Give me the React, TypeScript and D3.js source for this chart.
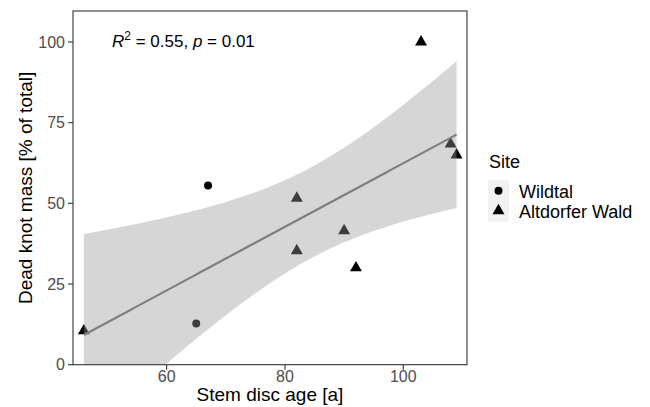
import React from "react";
import * as d3 from "d3";

const ages = [46, 65, 67, 82, 82, 90, 92, 103, 108, 109];
const deadKnot = [10.5, 12.8, 55.5, 51.6, 35.3, 41.5, 30, 100, 68.4, 65];
const sites = ["Altdorfer Wald", "Wildtal", "Wildtal", "Altdorfer Wald", "Altdorfer Wald", "Altdorfer Wald", "Altdorfer Wald", "Altdorfer Wald", "Altdorfer Wald", "Altdorfer Wald"];
const siteLevels = ["Wildtal", "Altdorfer Wald"];
const xTicks = [60, 80, 100];
const yTicks = [0, 25, 50, 75, 100];

const W = 650, H = 407;
const m = { left: 73, right: 467, top: 11, bottom: 364.7 };

export default function App() {
  const x = d3.scaleLinear().domain([44.17, 110.77]).range([m.left, m.right]);
  const y = d3.scaleLinear().domain([0, 109.6]).range([m.bottom, m.top]);

  const n = ages.length;
  const mx = d3.mean(ages)!;
  const my = d3.mean(deadKnot)!;
  let sxx = 0, sxy = 0, syy = 0;
  for (let i = 0; i < n; i++) {
    sxx += (ages[i] - mx) ** 2;
    sxy += (ages[i] - mx) * (deadKnot[i] - my);
    syy += (deadKnot[i] - my) ** 2;
  }
  const b = sxy / sxx;
  const a = my - b * mx;
  const s = Math.sqrt((syy - (sxy * sxy) / sxx) / (n - 2));
  const t = 2.306;
  const x0 = d3.min(ages)!, x1 = d3.max(ages)!;
  const grid = d3.range(0, 81).map((i) => x0 + ((x1 - x0) * i) / 80);
  const band = grid.map((xv) => {
    const fit = a + b * xv;
    const se = s * Math.sqrt(1 / n + (xv - mx) ** 2 / sxx);
    return { xv, fit, lo: fit - t * se, hi: fit + t * se };
  });
  const area = d3.area<any>().x((d) => x(d.xv)).y0((d) => y(d.lo)).y1((d) => y(d.hi));
  const line = d3.line<any>().x((d) => x(d.xv)).y((d) => y(d.fit));

  const tri = d3.symbol().type(d3.symbolTriangle).size(62)();
  const circ = d3.symbol().type(d3.symbolCircle).size(50)();
  const font = "'Liberation Sans', Arial, sans-serif";

  return (
    <svg width={W} height={H} style={{ position: "absolute", left: 0, top: 0 }} fontFamily={font}>
      <defs>
        <clipPath id="panel">
          <rect x={m.left} y={m.top} width={m.right - m.left} height={m.bottom - m.top} />
        </clipPath>
      </defs>
      <rect x={0} y={0} width={W} height={H} fill="white" />
      {ages.map((av, i) => (
        <path
          key={i}
          d={sites[i] === "Wildtal" ? circ : tri}
          transform={`translate(${x(av)},${y(deadKnot[i])})`}
          fill="black"
        />
      ))}
      <g clipPath="url(#panel)">
        <path d={area(band)!} fill="#999999" opacity={0.4} />
        <path d={line(band)!} fill="none" stroke="#7f7f7f" strokeWidth={2.2} />
      </g>
      <text x={112} y={47} fontSize={17} fill="black">
        <tspan fontStyle="italic">R</tspan>
        <tspan dy={-7} fontSize={12}>2</tspan>
        <tspan dy={7}> = 0.55, </tspan>
        <tspan fontStyle="italic">p</tspan>
        <tspan> = 0.01</tspan>
      </text>
      <rect x={m.left} y={m.top} width={m.right - m.left} height={m.bottom - m.top} fill="none" stroke="#333333" strokeWidth={1.1} />
      {yTicks.map((v) => (
        <g key={v}>
          <line x1={m.left - 5} x2={m.left} y1={y(v)} y2={y(v)} stroke="#333333" strokeWidth={1.1} />
          <text x={m.left - 8} y={y(v)} dy="0.36em" textAnchor="end" fontSize={16} fill="#4d4d4d">{v}</text>
        </g>
      ))}
      {xTicks.map((v) => (
        <g key={v}>
          <line x1={x(v)} x2={x(v)} y1={m.bottom} y2={m.bottom + 5} stroke="#333333" strokeWidth={1.1} />
          <text x={x(v)} y={m.bottom + 17.5} textAnchor="middle" fontSize={16} fill="#4d4d4d">{v}</text>
        </g>
      ))}
      <text x={(m.left + m.right) / 2} y={401} textAnchor="middle" fontSize={19} fill="black">Stem disc age [a]</text>
      <text transform={`translate(32,${(m.top + m.bottom) / 2}) rotate(-90)`} textAnchor="middle" fontSize={19} fill="black">Dead knot mass [% of total]</text>
      <text x={489} y={168} fontSize={18} fill="black">Site</text>
      {siteLevels.map((lv, i) => (
        <g key={lv}>
          <rect x={488} y={180 + i * 20.8} width={21} height={20.8} fill="#f2f2f2" />
          <path d={lv === "Wildtal" ? circ : tri} transform={`translate(498.5,${190.7 + i * 20})`} fill="black" />
          <text x={519} y={191.5 + i * 20} dy="0.36em" fontSize={18} fill="black">{lv}</text>
        </g>
      ))}
    </svg>
  );
}
